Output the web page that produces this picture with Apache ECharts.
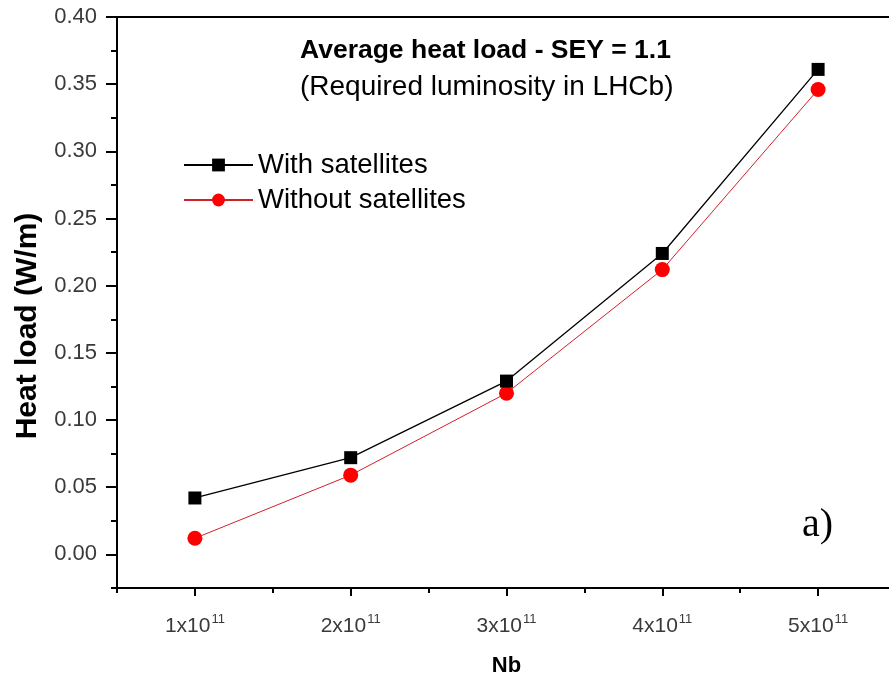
<!DOCTYPE html>
<html>
<head>
<meta charset="utf-8">
<script src="https://cdn.jsdelivr.net/npm/echarts@6/dist/echarts.min.js"></script>
<style>
html,body{margin:0;padding:0;background:#fff;}
#chart{width:889px;height:678px;}
</style>
</head>
<body>
<div id="chart"></div>
<script>
// ---- data ----
var nbValues = [1, 2, 3, 4, 5];
var withSatellites = [0.042, 0.072, 0.129, 0.224, 0.361];
var withoutSatellites = [0.012, 0.059, 0.120, 0.212, 0.346];
var xMajorTicks = [1, 2, 3, 4, 5];
var xMinorTicks = [0.5, 1.5, 2.5, 3.5, 4.5];
var yMajorTicks = [0, 0.05, 0.10, 0.15, 0.20, 0.25, 0.30, 0.35, 0.40];
var yMinorTicks = [-0.025, 0.025, 0.075, 0.125, 0.175, 0.225, 0.275, 0.325, 0.375];
var seriesNames = ['With satellites', 'Without satellites'];
var titleText = 'Average heat load - SEY = 1.1';
var subtitleText = '(Required luminosity in LHCb)';
var xName = 'Nb';
var yName = 'Heat load (W/m)';
var panelLabel = 'a)';

function pairs(xs, ys) { return xs.map(function (x, i) { return [x, ys[i]]; }); }

var FONT = 'Liberation Sans, Arial, sans-serif';
var chart = echarts.init(document.getElementById('chart'), null, {renderer: 'canvas'});

var axisLineStyle = {color: '#000', width: 2};

chart.setOption({
  animation: false,
  backgroundColor: '#fff',
  title: {
    text: titleText,
    subtext: subtitleText,
    left: 300,
    top: 37,
    padding: 0,
    itemGap: 9,
    textStyle: {fontFamily: FONT, fontSize: 26.5, fontWeight: 'bold', color: '#000'},
    subtextStyle: {fontFamily: FONT, fontSize: 28, fontWeight: 'normal', color: '#000'}
  },
  legend: {
    orient: 'vertical',
    left: 183,
    top: 150,
    padding: 0,
    itemWidth: 69,
    itemHeight: 16,
    itemGap: 5,
    data: seriesNames,
    textStyle: {fontFamily: FONT, fontSize: 27.5, color: '#000', lineHeight: 30}
  },
  grid: {left: 117, top: 17, width: 779, height: 571, containLabel: false, outerBoundsMode: 'none'},
  xAxis: [
    {
      type: 'value', min: 0.5, max: 5.5, interval: 0.5, position: 'bottom',
      axisLine: {show: true, onZero: false, lineStyle: axisLineStyle},
      axisTick: {show: true, inside: false, length: 8, customValues: xMajorTicks, lineStyle: {color: '#000', width: 2}},
      axisLabel: {
        show: true, margin: 25, customValues: xMajorTicks,
        formatter: function (v) { return '{b|' + v + 'x10}{s|11}'; },
        rich: {
          b: {fontFamily: FONT, fontSize: 21, color: '#3a3a3a', verticalAlign: 'bottom', lineHeight: 24},
          s: {fontFamily: FONT, fontSize: 13, color: '#3a3a3a', verticalAlign: 'top', lineHeight: 24, padding: [0, 0, 11, 1]}
        }
      },
      splitLine: {show: false},
      name: xName, nameLocation: 'middle', nameGap: 67,
      nameTextStyle: {fontFamily: FONT, fontSize: 22, fontWeight: 'bold', color: '#000'}
    },
    {
      type: 'value', min: 0.5, max: 5.5, interval: 0.5, position: 'bottom',
      axisLine: {show: false, onZero: false},
      axisTick: {show: true, inside: false, length: 5, customValues: xMinorTicks, lineStyle: {color: '#000', width: 2}},
      axisLabel: {show: false},
      splitLine: {show: false}
    },
    {
      type: 'value', min: 0.5, max: 5.5, interval: 0.5, position: 'top',
      axisLine: {show: true, onZero: false, lineStyle: axisLineStyle},
      axisTick: {show: false},
      axisLabel: {show: false},
      splitLine: {show: false}
    }
  ],
  yAxis: [
    {
      type: 'value', min: -0.025, max: 0.40, interval: 0.025, position: 'left',
      axisLine: {show: true, onZero: false, lineStyle: axisLineStyle},
      axisTick: {show: true, inside: false, length: 11, customValues: yMajorTicks, lineStyle: {color: '#000', width: 2}},
      axisLabel: {
        show: true, margin: 20, customValues: yMajorTicks,
        formatter: function (v) { return v.toFixed(2); },
        fontFamily: FONT, fontSize: 22, color: '#3a3a3a'
      },
      splitLine: {show: false}
    },
    {
      type: 'value', min: -0.025, max: 0.40, interval: 0.025, position: 'left',
      axisLine: {show: false, onZero: false},
      axisTick: {show: true, inside: false, length: 6, customValues: yMinorTicks, lineStyle: {color: '#000', width: 2}},
      axisLabel: {show: false},
      splitLine: {show: false}
    }
  ],
  graphic: [
    {
      type: 'text', x: 28, y: 326, rotation: Math.PI / 2,
      style: {text: yName, fontFamily: FONT, fontSize: 30, fontWeight: 'bold', fill: '#000', align: 'center', verticalAlign: 'middle'}
    },
    {
      type: 'text', x: 802, y: 525,
      style: {text: panelLabel, fontFamily: 'Liberation Serif, Times New Roman, serif', fontSize: 40, fill: '#000', align: 'left', verticalAlign: 'middle'}
    }
  ],
  series: [
    {
      name: seriesNames[0], type: 'line', xAxisIndex: 0, yAxisIndex: 0,
      data: pairs(nbValues, withSatellites),
      symbol: 'rect', symbolSize: 13,
      lineStyle: {color: '#000', width: 1.3},
      itemStyle: {color: '#000'},
      z: 3
    },
    {
      name: seriesNames[1], type: 'line', xAxisIndex: 0, yAxisIndex: 0,
      data: pairs(nbValues, withoutSatellites),
      symbol: 'circle', symbolSize: 15,
      lineStyle: {color: '#d0202a', width: 1},
      itemStyle: {color: '#ff0000'},
      z: 2
    }
  ]
});
</script>
</body>
</html>
